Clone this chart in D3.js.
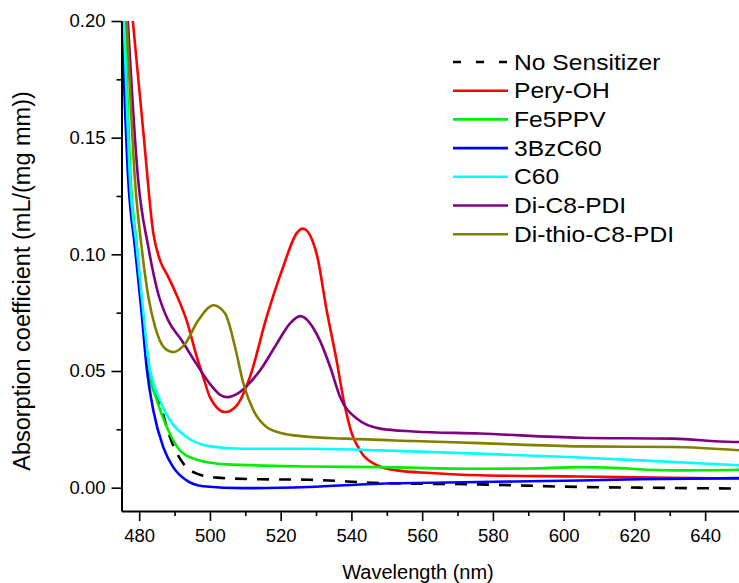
<!DOCTYPE html>
<html>
<head>
<meta charset="utf-8">
<script src="https://cdn.jsdelivr.net/npm/d3@7"></script>
<style>
  body { margin: 0; background: #fff; }
  svg { font-family: Arial, "Liberation Sans", sans-serif; }
</style>
</head>
<body>
<div id="chart"></div>
<script>
// series names & colours (legend order)
const seriesNames = ["No Sensitizer", "Pery-OH", "Fe5PPV", "3BzC60", "C60", "Di-C8-PDI", "Di-thio-C8-PDI"];
const seriesColors = ["#000000", "#ff0000", "#00ee00", "#0000ff", "#00ffff", "#800080", "#808000"];

// wavelength (nm) / absorption (mL/(mg mm))
const wlNoSens  = [475.3, 477.3, 479.3, 481.6, 483, 485.9, 488.7, 492.5, 496.3, 501.9, 514.2, 528, 548, 576, 604.6, 621.6, 650];
const absNoSens = [0.2, 0.132, 0.1, 0.066, 0.0503, 0.036, 0.0217, 0.0103, 0.006, 0.0043, 0.0036, 0.0034, 0.002, 0.0014, 0.0003, 0.0, -0.0004];

const wlPery  = [478.2, 481.2, 484, 486, 488, 490.6, 493.4, 496.3, 498.2, 500, 504.3, 507.6, 511.3, 516, 520.7, 524.5, 526.3, 530.2, 533, 535.8, 538, 540.1, 542.4, 547.2, 552.8, 562.2, 576.4, 604.6, 630, 650];
const absPery = [0.2, 0.152, 0.109, 0.097, 0.091, 0.0825, 0.0717, 0.056, 0.047, 0.0388, 0.0324, 0.0353, 0.0474, 0.073, 0.0946, 0.109, 0.111, 0.1, 0.076, 0.0546, 0.036, 0.0233, 0.016, 0.0096, 0.0074, 0.0063, 0.0053, 0.0048, 0.0042, 0.0039];

const wlFe5  = [476, 477.6, 479.4, 481, 482.1, 485, 487.8, 491.5, 496.3, 504.7, 528, 548, 576, 590, 604.6, 612, 631, 650];
const absFe5 = [0.2, 0.132, 0.103, 0.0747, 0.0546, 0.0374, 0.026, 0.016, 0.012, 0.01, 0.0091, 0.0088, 0.0081, 0.0082, 0.0088, 0.0086, 0.0074, 0.0077];

const wl3Bz  = [475.1, 476.9, 478.8, 480.7, 482.1, 484, 486.8, 489.6, 493.4, 498.1, 509.4, 528, 548, 576, 604.6, 621.6, 650];
const abs3Bz = [0.2, 0.132, 0.103, 0.0747, 0.0517, 0.0331, 0.0174, 0.0088, 0.0031, 0.0006, -0.0002, 0.0003, 0.0017, 0.0024, 0.0031, 0.0036, 0.0041];

const wlC60  = [475.7, 477.4, 479.3, 481.2, 482.6, 485.9, 488.7, 493.4, 500, 509.4, 528, 548, 576, 604.6, 621.6, 650];
const absC60 = [0.2, 0.132, 0.103, 0.0747, 0.0546, 0.0374, 0.0289, 0.0217, 0.0177, 0.0167, 0.0167, 0.016, 0.0146, 0.0129, 0.0117, 0.0096];

const wlDiC8  = [476.8, 479.7, 482.6, 485.4, 488.2, 492, 496, 500, 503, 505, 508, 511, 514.2, 518.9, 522.6, 525.5, 531.1, 534, 536.8, 541.5, 548.1, 557.5, 576.4, 604.6, 631, 647.9, 650];
const absDiC8 = [0.2, 0.132, 0.103, 0.083, 0.0717, 0.0632, 0.0535, 0.0445, 0.0397, 0.0388, 0.0405, 0.0445, 0.0503, 0.0617, 0.0703, 0.0735, 0.063, 0.0517, 0.0389, 0.0296, 0.0253, 0.0241, 0.0232, 0.0214, 0.021, 0.0196, 0.0196];

const wlThio  = [476.5, 478.8, 480.7, 482.6, 484.5, 487.3, 489.6, 493, 496.7, 501, 504.3, 507.1, 509.4, 512.3, 516, 520.7, 526.4, 538.7, 557.5, 576.4, 604.6, 631, 650];
const absThio = [0.2, 0.132, 0.103, 0.0817, 0.0689, 0.0596, 0.0581, 0.0617, 0.0717, 0.0782, 0.0746, 0.0603, 0.045, 0.0331, 0.026, 0.0232, 0.022, 0.021, 0.02, 0.0191, 0.0177, 0.0174, 0.016];

const seriesX = [wlNoSens, wlPery, wlFe5, wl3Bz, wlC60, wlDiC8, wlThio];
const seriesY = [absNoSens, absPery, absFe5, abs3Bz, absC60, absDiC8, absThio];

const xTicks = [480, 500, 520, 540, 560, 580, 600, 620, 640];
const yTicks = [0.00, 0.05, 0.10, 0.15, 0.20];

const width = 739, height = 583;
const x = d3.scaleLinear().domain([475, 650]).range([121.5, 740.5]);
const y = d3.scaleLinear().domain([-0.01, 0.20]).range([511, 21]);

const svg = d3.select("#chart").append("svg")
    .attr("width", width)
    .attr("height", height);

svg.append("defs").append("clipPath").attr("id", "plotclip")
  .append("rect")
    .attr("x", x(475)).attr("y", y(0.20))
    .attr("width", x(650) - x(475)).attr("height", y(-0.01) - y(0.20));

// lines
let line = d3.line().x(d => x(d[0])).y(d => y(d[1])).curve(d3.curveMonotoneX);
let plot = svg.append("g").attr("clip-path", "url(#plotclip)");
for (let i = 0; i < seriesNames.length; ++i) {
    let pts = seriesX[i].map((v, j) => [v, seriesY[i][j]]);
    plot.append("path")
        .datum(pts)
        .attr("fill", "none")
        .attr("stroke", seriesColors[i])
        .attr("stroke-width", 2.6)
        .attr("stroke-dasharray", i == 0 ? "12,10" : null)
        .attr("d", line);
}

// axes
function styleAxis(g) {
    g.selectAll("path.domain").attr("stroke", "#000").attr("stroke-width", 2);
    g.selectAll(".tick line").attr("stroke", "#000").attr("stroke-width", 1.6);
    g.selectAll(".tick text").attr("fill", "#000").style("font-size", "18.5px")
        .style("font-family", "Arial, 'Liberation Sans', sans-serif");
}

let minorX = d3.range(490, 650, 20);
svg.append("g")
    .attr("transform", `translate(0,${y(-0.01)})`)
    .call(d3.axisBottom(x).tickValues(minorX).tickSize(5).tickFormat(""))
    .call(g => g.select(".domain").remove())
    .call(styleAxis);
svg.append("g")
    .attr("transform", `translate(0,${y(-0.01)})`)
    .call(d3.axisBottom(x).tickValues(xTicks).tickSize(10).tickSizeOuter(0).tickPadding(8).tickFormat(d3.format("d")))
    .call(styleAxis);

let minorY = [0.025, 0.075, 0.125, 0.175];
svg.append("g")
    .attr("transform", `translate(${x(475)},0)`)
    .call(d3.axisLeft(y).tickValues(minorY).tickSize(5).tickFormat(""))
    .call(g => g.select(".domain").remove())
    .call(styleAxis);
svg.append("g")
    .attr("transform", `translate(${x(475)},0)`)
    .call(d3.axisLeft(y).tickValues(yTicks).tickSize(10).tickSizeOuter(0).tickPadding(6).tickFormat(d3.format(".2f")))
    .call(styleAxis);

// axis titles
svg.append("text")
    .attr("x", 418).attr("y", 579)
    .attr("text-anchor", "middle")
    .style("font-size", "20px")
    .text("Wavelength (nm)");
svg.append("text")
    .attr("transform", "translate(30,281) rotate(-90)")
    .attr("text-anchor", "middle")
    .style("font-size", "23.5px")
    .text("Absorption coefficient (mL/(mg mm))");

// legend
let legend = svg.append("g");
seriesNames.forEach((name, i) => {
    let cy = 62 + i * 28.7;
    legend.append("line")
        .attr("x1", 453).attr("x2", 508)
        .attr("y1", cy).attr("y2", cy)
        .attr("stroke", seriesColors[i])
        .attr("stroke-width", 2.6)
        .attr("stroke-dasharray", i == 0 ? "8,15" : null);
    legend.append("text")
        .attr("transform", `translate(514,${cy + 7.5}) scale(1.12,1)`)
        .style("font-size", "22px")
        .text(name);
});
</script>
</body>
</html>
